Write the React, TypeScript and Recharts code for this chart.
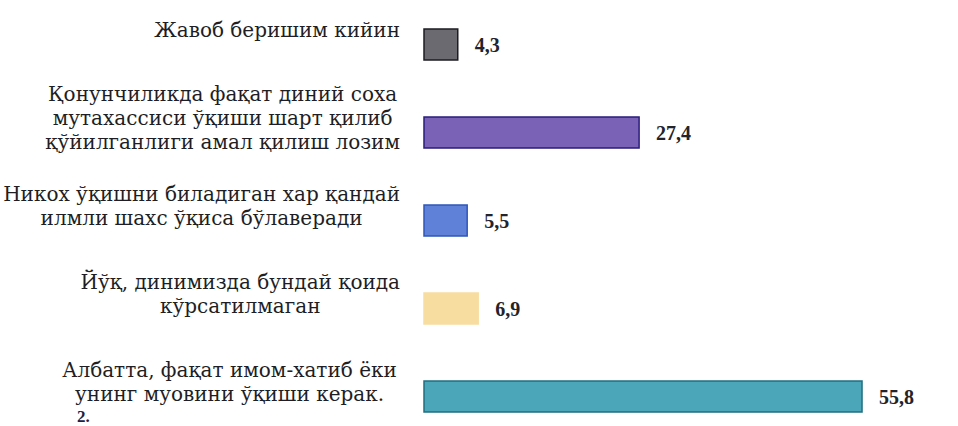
import React from 'react';
import { BarChart, Bar, XAxis, YAxis, Cell, LabelList } from 'recharts';

// Жавоблар (кўп қаторли ёрлиқлар)
const categoryLines: string[][] = [
    ['Жавоб беришим кийин'],
    ['Қонунчиликда фақат диний соха', 'мутахассиси ўқиши шарт қилиб', 'қўйилганлиги амал қилиш лозим'],
    ['Никох ўқишни биладиган хар қандай', 'илмли шахс ўқиса бўлаверади'],
    ['Йўқ, динимизда бундай қоида', 'кўрсатилмаган'],
    ['Албатта,  фақат имом-хатиб ёки', 'унинг муовини ўқиши керак.'],
];

const values: number[] = [4.3, 27.4, 5.5, 6.9, 55.8];

const barFills = ['#6a6a70', '#7a63b6', '#5f82d8', '#f7dda0', '#4ba6ba'];
const barStrokes = ['#1c1c22', '#2a1d7c', '#2f55b8', '#f7dda0', '#1f6f80'];

const data = categoryLines.map((lines, i) => ({
    name: lines.join('\n'),
    value: values[i],
}));

const FONT = "'Liberation Serif', 'Times New Roman', serif";
const LABEL_FONT = "'DejaVu Serif', serif";
const LABEL_SIZE = 20;

// canvas for measuring label widths (lines are centred inside the block)
const measureCtx =
    typeof document !== 'undefined'
        ? document.createElement('canvas').getContext('2d')
        : null;

const textWidth = (s: string): number => {
    if (!measureCtx) return s.length * LABEL_SIZE * 0.55;
    measureCtx.font = `${LABEL_SIZE}px ${LABEL_FONT}`;
    return measureCtx.measureText(s).width;
};

interface TickProps {
    x?: number;
    y?: number;
    payload?: { value: string };
}

const MultiLineTick: React.FC<TickProps> = ({ x = 0, y = 0, payload }) => {
    const lines = (payload?.value ?? '').split('\n');
    const lineHeight = 24;
    const maxW = Math.max(...lines.map(textWidth));
    const cx = x - maxW / 2;
    const startY = y - ((lines.length - 1) * lineHeight) / 2 + 7 - 14;
    return (
        <text
            x={cx}
            y={startY}
            textAnchor="middle"
            fill="#1e1e24"
            style={{ fontFamily: LABEL_FONT, fontSize: LABEL_SIZE }}
        >
            {lines.map((line, i) => (
                <tspan key={i} x={cx} dy={i === 0 ? 0 : lineHeight}>
                    {line}
                </tspan>
            ))}
        </text>
    );
};

const App: React.FC = () => {
    return (
        <div
            style={{
                position: 'fixed',
                inset: 0,
                overflow: 'hidden',
                background: '#ffffff',
                fontFamily: FONT,
            }}
        >
            <div style={{ position: 'absolute', left: 0, top: 0 }}>
                <BarChart
                    width={958}
                    height={440}
                    data={data}
                    layout="vertical"
                    margin={{ top: 0, right: 63, bottom: 0, left: 0 }}
                    barCategoryGap={0}
                >
                    <XAxis type="number" domain={[0, 60]} hide />
                    <YAxis
                        type="category"
                        dataKey="name"
                        width={424}
                        axisLine={false}
                        tickLine={false}
                        tickSize={0}
                        tickMargin={24}
                        interval={0}
                        tick={<MultiLineTick />}
                    />
                    <Bar dataKey="value" barSize={31} isAnimationActive={false}>
                        {data.map((_, i) => (
                            <Cell
                                key={i}
                                fill={barFills[i]}
                                stroke={barStrokes[i]}
                                strokeWidth={1.5}
                            />
                        ))}
                        <LabelList
                            dataKey="value"
                            position="right"
                            offset={17}
                            formatter={(v: any) => String(v).replace('.', ',')}
                            fill="#23232b"
                            fontSize={20}
                            fontWeight="bold"
                            fontFamily={FONT}
                        />
                    </Bar>
                </BarChart>
            </div>
            <div
                style={{
                    position: 'absolute',
                    left: 77,
                    top: 409,
                    fontWeight: 'bold',
                    fontSize: 17,
                    lineHeight: '15px',
                    color: '#1b2142',
                }}
            >
                2.
            </div>
        </div>
    );
};

export default App;
